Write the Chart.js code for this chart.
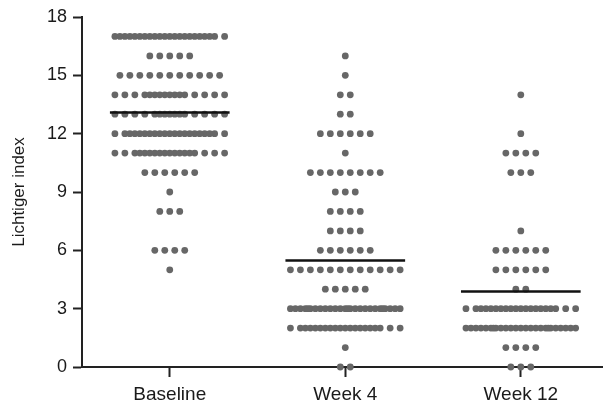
<!DOCTYPE html>
<html>
<head>
<meta charset="utf-8">
<script src="https://cdn.jsdelivr.net/npm/chart.js@4/dist/chart.umd.min.js"></script>
<style>
html,body{margin:0;padding:0;background:#fff;}
canvas{display:block;}
</style>
</head>
<body>
<canvas id="c" width="606" height="406"></canvas>
<script>
// ---- data ----
const categories = ['Baseline', 'Week 4', 'Week 12'];
const baselineValues = [17, 16, 15, 14, 13, 12, 11, 10, 9, 8, 6, 5];
const baselineCounts = [22, 5, 11, 16, 15, 21, 18, 6, 1, 3, 4, 1];
const week4Values = [16, 15, 14, 13, 12, 11, 10, 9, 8, 7, 6, 5, 4, 3, 2, 1, 0];
const week4Counts = [1, 1, 2, 2, 6, 1, 8, 3, 4, 4, 6, 12, 5, 26, 20, 1, 2];
const week12Values = [14, 12, 11, 10, 7, 6, 5, 4, 3, 2, 1, 0];
const week12Counts = [1, 1, 4, 3, 1, 6, 6, 2, 20, 25, 4, 3];
const yTicks = [0, 3, 6, 9, 12, 15, 18];
const yTitle = 'Lichtiger index';

// ---- layout helpers (dot-plot stacking) ----
const PX_PER_UNIT = 176;
const SP = 10 / PX_PER_UNIT;   // dot spacing in category units
const K = 12;                  // dots per row before overlapping
const MEAN_HALF = 60 / PX_PER_UNIT;

function rowOffsets(n) {
  const out = [];
  const full = Math.min(n, K);
  for (let i = 0; i < full; i++) out.push((i - (full - 1) / 2) * SP);
  let m = n - full;
  const half = Math.min(m, K - 1);
  const start = Math.floor((K - 1 - half) / 2);
  for (let j = 0; j < half; j++) out.push((start + j - (K - 2) / 2) * SP);
  m -= half;
  const Q = 2 * (K - 1);
  for (let t = 0; t < m; t++) {
    const q = Math.min(Q - 1, Math.round((t + 0.5) * Q / m - 0.5));
    const i = Math.floor(q / 2);
    const frac = (q % 2 === 0) ? 0.25 : 0.75;
    out.push((i + frac - (K - 1) / 2) * SP);
  }
  return out;
}

function buildPoints(catIndex, values, counts) {
  const pts = [];
  values.forEach((v, r) => {
    rowOffsets(counts[r]).forEach(off => pts.push({ x: catIndex + off, y: v }));
  });
  return pts;
}

function mean(values, counts) {
  let s = 0, n = 0;
  values.forEach((v, i) => { s += v * counts[i]; n += counts[i]; });
  return s / n;
}

const groups = [
  [baselineValues, baselineCounts],
  [week4Values, week4Counts],
  [week12Values, week12Counts]
];

const datasets = [];
groups.forEach((g, i) => {
  const m = mean(g[0], g[1]);
  datasets.push({
    type: 'line',
    label: categories[i] + ' mean',
    data: [{ x: i - MEAN_HALF, y: m }, { x: i + MEAN_HALF, y: m }],
    borderColor: '#111',
    borderWidth: 2.6,
    pointRadius: 0,
    fill: false,
    order: 0,
    clip: false
  });
});
groups.forEach((g, i) => {
  datasets.push({
    type: 'scatter',
    label: categories[i],
    data: buildPoints(i, g[0], g[1]),
    backgroundColor: '#676767',
    borderWidth: 0,
    pointRadius: 3.4,
    pointHoverRadius: 3.4,
    order: 1,
    clip: false
  });
});

const FONT = '"Liberation Sans", Arial, Helvetica, sans-serif';

new Chart(document.getElementById('c'), {
  type: 'scatter',
  data: { datasets },
  options: {
    responsive: false,
    devicePixelRatio: 1,
    animation: false,
    layout: { padding: { top: 17, right: 2, left: 0, bottom: 0 } },
    plugins: { legend: { display: false }, tooltip: { enabled: false } },
    scales: {
      x: {
        type: 'linear',
        min: -0.5,
        max: 2.466,
        afterBuildTicks: s => { s.ticks = categories.map((c, i) => ({ value: i })); },
        afterFit: s => { s.height = 39; },
        ticks: {
          callback: v => categories[v],
          color: '#1a1a1a',
          font: { family: FONT, size: 19 },
          padding: 6,
          maxRotation: 0
        },
        grid: { drawOnChartArea: false, drawTicks: true, tickLength: 10, tickWidth: 2, tickColor: '#222' },
        border: { display: true, color: '#222', width: 2 }
      },
      y: {
        type: 'linear',
        min: 0,
        max: 18,
        afterBuildTicks: s => { s.ticks = yTicks.map(v => ({ value: v })); },
        afterFit: s => { s.width = 82; },
        ticks: {
          color: '#1a1a1a',
          font: { family: FONT, size: 18 },
          padding: 6
        },
        title: {
          display: true,
          text: yTitle,
          color: '#1a1a1a',
          font: { family: FONT, size: 17 },
          padding: { top: 9, bottom: 0 }
        },
        grid: { drawOnChartArea: false, drawTicks: true, tickLength: 9, tickWidth: 2, tickColor: '#222' },
        border: { display: true, color: '#222', width: 2 }
      }
    }
  }
});
</script>
</body>
</html>
